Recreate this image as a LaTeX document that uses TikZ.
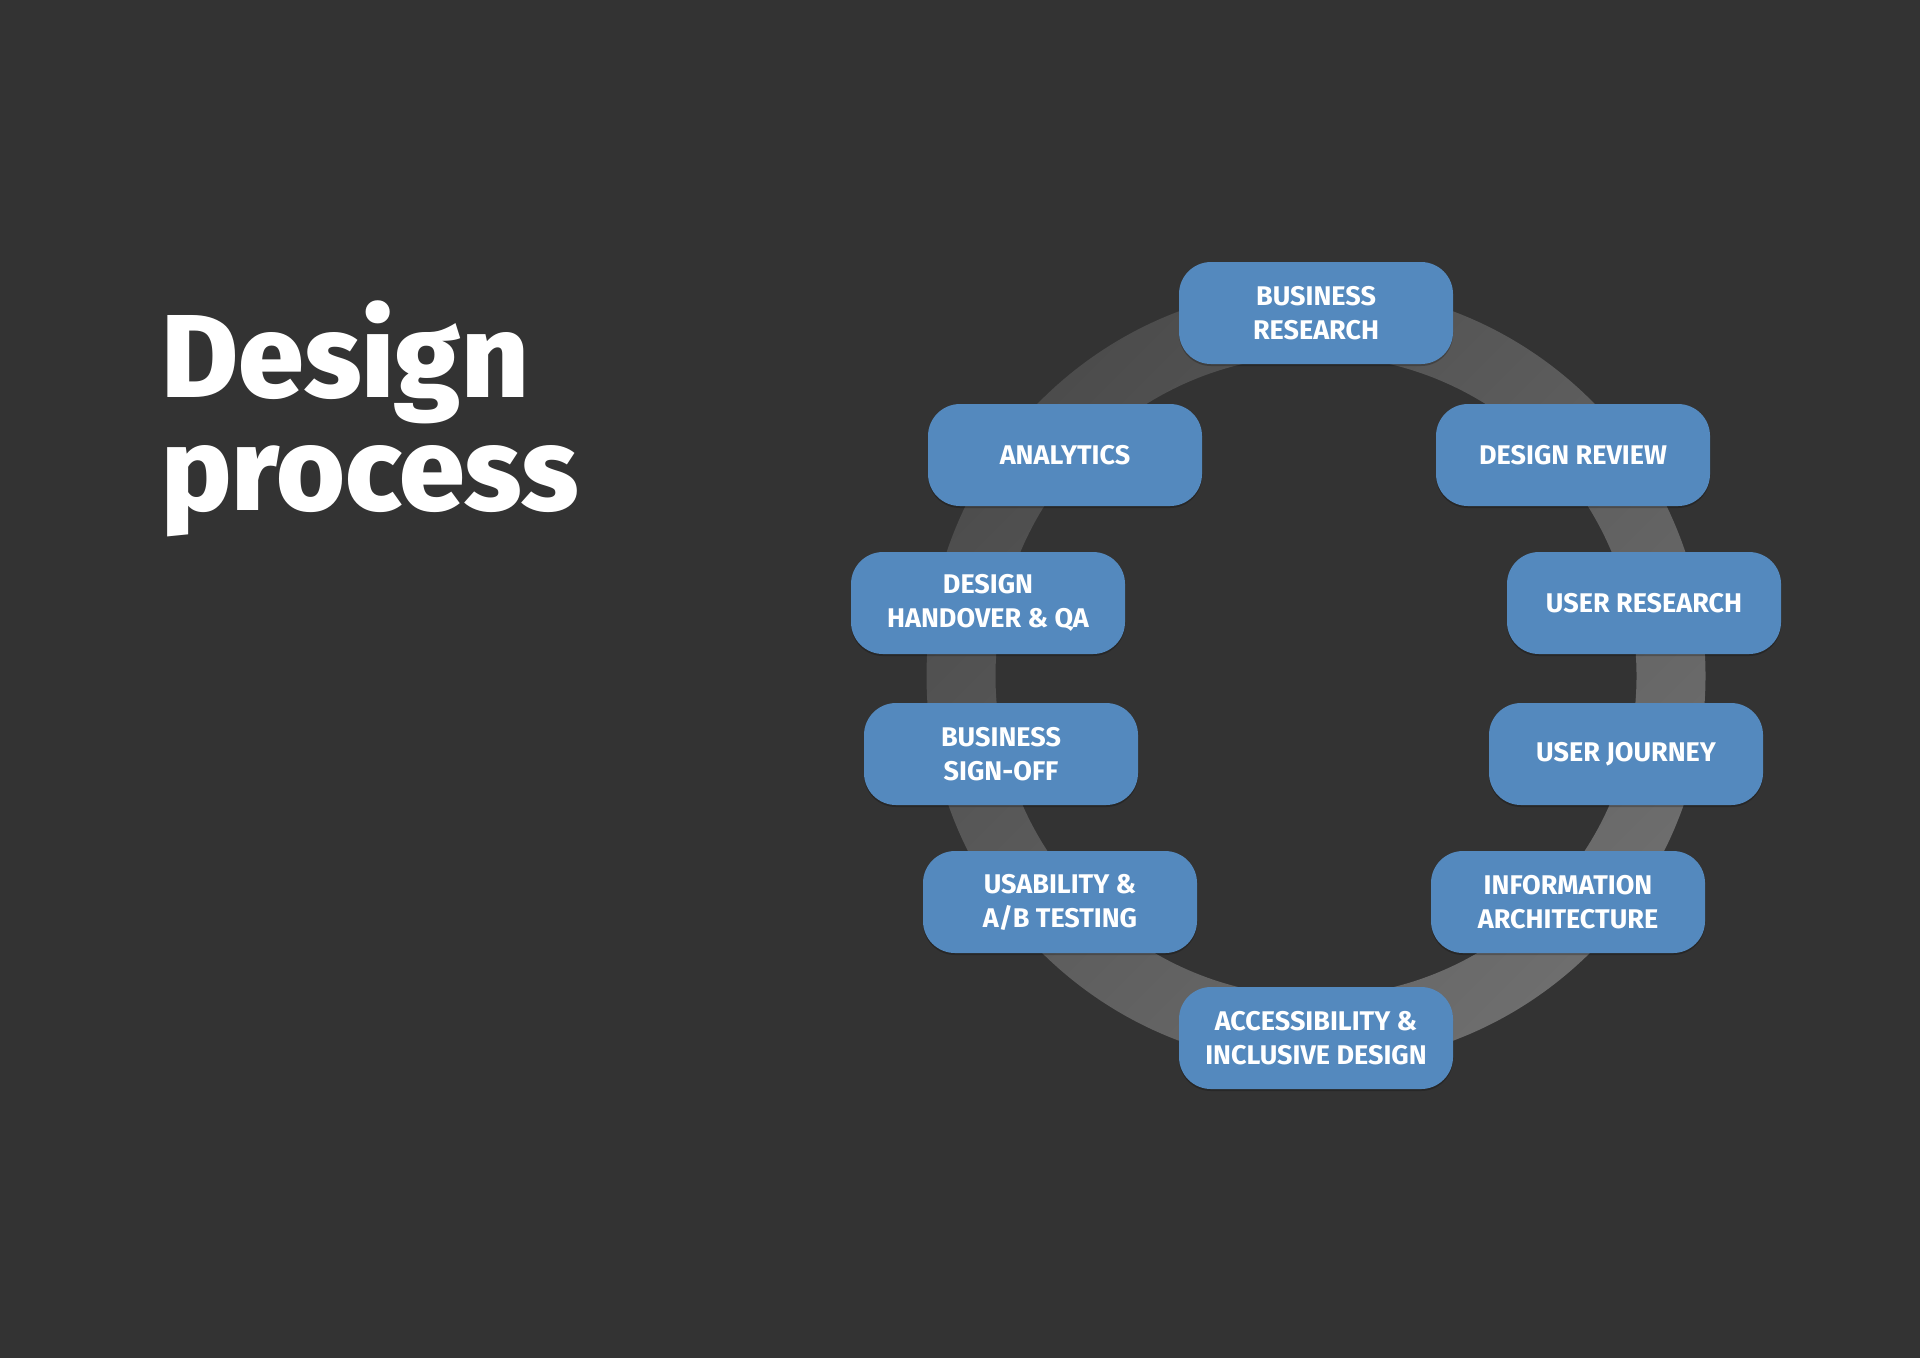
\documentclass[tikz,border=0pt]{standalone}
\usepackage{fontspec}
\setmainfont{Fira Sans}
\newfontfamily\titlefont{Fira Sans ExtraBold}
\usetikzlibrary{shadows}
\definecolor{bg}{HTML}{333333}
\definecolor{boxblue}{HTML}{5489BE}
\definecolor{ringdark}{HTML}{4C4C4C}
\definecolor{ringlight}{HTML}{6E6E6E}
\begin{document}
\begin{tikzpicture}[x=0.5pt,y=-0.5pt,
  stage/.style={rounded corners=16pt, fill=boxblue, minimum width=137pt, minimum height=51pt,
    text=white, font=\bfseries\fontsize{13.5}{17}\selectfont, align=center, inner sep=0pt,
    drop shadow={shadow xshift=0pt, shadow yshift=-1pt, opacity=0.22, fill=black}},
  titletext/.style={anchor=base west, text=white, inner sep=0pt, font=\titlefont\fontsize{59}{59}\selectfont}]
\useasboundingbox (0,0) rectangle (1920,1357);
\fill[bg] (-20,-20) rectangle (1940,1377);
% ring
\shade[even odd rule, top color=ringdark, bottom color=ringlight, shading angle=45]
  (1316,676) circle[radius=194.75pt] (1316,676) circle[radius=160.25pt];
% title
\node[titletext] (t1) at (161,397) {Design};
\node[titletext] (t2) at (161,510) {process};
% stages
\node[stage] (br) at (1316,313) {BUSINESS\\RESEARCH};
\node[stage] (an) at (1065,455) {ANALYTICS};
\node[stage] (dr) at (1573,455) {DESIGN REVIEW};
\node[stage] (dh) at (988,603) {DESIGN\\HANDOVER \& QA};
\node[stage] (ur) at (1644,603) {USER RESEARCH};
\node[stage] (bs) at (1001,754) {BUSINESS\\SIGN-OFF};
\node[stage] (uj) at (1626,754) {USER JOURNEY};
\node[stage] (ut) at (1060,902) {USABILITY \&\\A/B TESTING};
\node[stage] (ia) at (1568,902) {INFORMATION\\ARCHITECTURE};
\node[stage] (ac) at (1316,1038) {ACCESSIBILITY \&\\INCLUSIVE DESIGN};
\end{tikzpicture}
\end{document}
